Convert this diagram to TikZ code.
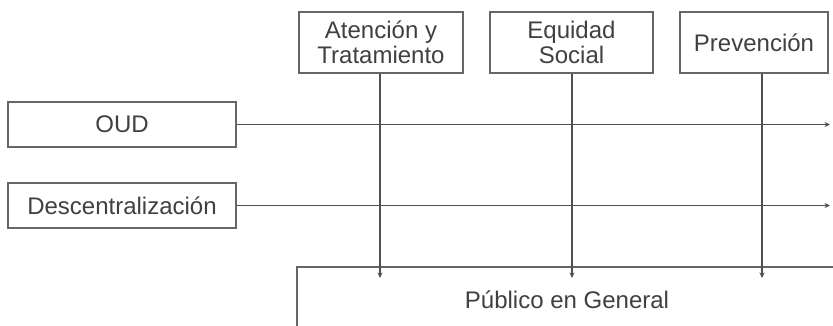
\documentclass[tikz,border=0pt]{standalone}
\usepackage{fontspec}
\setmainfont{Liberation Sans}
\usetikzlibrary{arrows.meta}
\definecolor{linec}{HTML}{505050}
\definecolor{boxc}{HTML}{666666}
\definecolor{textc}{HTML}{404040}
\begin{document}
\begin{tikzpicture}[x=1pt,y=-1pt,
  boxstyle/.style={draw=boxc, line width=1.4pt, fill=white, text=textc, inner sep=0pt,
    align=center, font=\fontsize{24}{25.5}\selectfont},
  conn/.style={draw=linec, line width=1.3pt, -{Stealth[length=5.5pt,width=5pt]}}]
\useasboundingbox (0,0) rectangle (833,325);
\clip (0,0) rectangle (833,325);
\fill[white] (0,0) rectangle (833,325);
% bottom box
\node[boxstyle, minimum width=540pt, minimum height=66pt] (pub) at (567,300) {Público en General};
% top boxes
\node[boxstyle, minimum width=164pt, minimum height=61pt] (at) at (381,42.5) {Atención y\\Tratamiento};
\node[boxstyle, minimum width=163pt, minimum height=61pt] (eq) at (571.5,42.5) {Equidad\\Social};
\node[boxstyle, minimum width=148pt, minimum height=61pt] (pr) at (754,42.5) {Prevención};
% left boxes
\node[boxstyle, minimum width=228pt, minimum height=45pt] (oud) at (122,124.5) {OUD};
\node[boxstyle, minimum width=228pt, minimum height=45pt] (des) at (122,205.5) {Descentralización};
% free ends
\coordinate (e1) at (830,124.5);
\coordinate (e2) at (830,205.5);
\coordinate (b1) at (380,278);
\coordinate (b2) at (572,278);
\coordinate (b3) at (762,278);
% horizontal connectors
\draw[conn] (oud.east) -- (e1);
\draw[conn] (des.east) -- (e2);
% vertical connectors
\draw[conn] (at.south -| b1) -- (b1);
\draw[conn] (eq.south -| b2) -- (b2);
\draw[conn] (pr.south -| b3) -- (b3);
\end{tikzpicture}
\end{document}
